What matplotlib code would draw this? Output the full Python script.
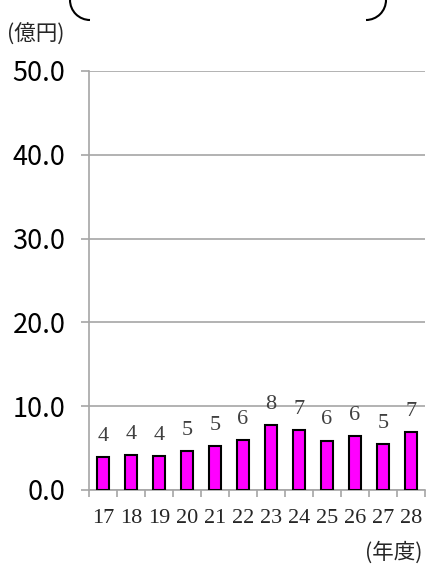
import matplotlib
matplotlib.use("Agg")
import matplotlib.pyplot as plt
from matplotlib.patches import Arc
import numpy as np

# Fiscal years (Heisei) and amounts in 100 million yen
years = ["17", "18", "19", "20", "21", "22", "23", "24", "25", "26", "27", "28"]
amounts = [3.97, 4.2, 4.1, 4.6, 5.25, 6.0, 7.7, 7.2, 5.9, 6.45, 5.45, 6.95]
y_ticks = [0, 10, 20, 30, 40, 50]

W, H, DPI = 429, 565, 100
fig = plt.figure(figsize=(W / DPI, H / DPI), dpi=DPI)
fig.patch.set_facecolor("white")

ax = fig.add_axes([89 / W, (H - 490) / H, 336 / W, 419 / H])
x = np.arange(len(years))
bars = ax.bar(x, amounts, width=0.44, color="#FF00FF", edgecolor="black",
              linewidth=1.5, zorder=3)

grid_c = "#a6a6a6"
ax.set_xlim(-0.5, len(years) - 0.5)
ax.set_ylim(0, 50)
ax.set_yticks(y_ticks)
ax.set_yticklabels([f"{v:.1f}" for v in y_ticks],
                   fontfamily="Noto Sans CJK JP", fontsize=19.5)
ax.yaxis.grid(True, color=grid_c, linewidth=1.2, zorder=0)
ax.tick_params(axis="y", length=6, width=1.2, color=grid_c, pad=11,
               labelcolor="black")

ax.set_xticks(x)
ax.set_xticklabels(years, fontfamily="Liberation Serif", fontsize=16,
                   color="#262626")
ax.set_xticks(np.arange(-0.5, len(years)), minor=True)
ax.tick_params(axis="x", which="major", length=0, pad=14)
ax.tick_params(axis="x", which="minor", length=5, width=1.2, color=grid_c)

for side in ["top", "right"]:
    ax.spines[side].set_visible(False)
for side in ["left", "bottom"]:
    ax.spines[side].set_color(grid_c)
    ax.spines[side].set_linewidth(1.2)

ax.bar_label(bars, labels=[f"{v:.0f}" for v in amounts], padding=8,
             fontfamily="Liberation Serif", fontsize=16, color="#404040")

fig.text(36 / W, 1 - 35 / H, "(億円)", fontfamily="Noto Sans CJK JP",
         fontsize=15.5, ha="center", va="center", color="#262626")
fig.text(394 / W, 1 - 553 / H, "(年度)", fontfamily="Noto Sans CJK JP",
         fontsize=15.5, ha="center", va="center", color="#262626")

# Bracket corners of the title frame at the top
ov = fig.add_axes([0, 0, 1, 1], facecolor="none")
ov.set_xlim(0, W)
ov.set_ylim(H, 0)
ov.axis("off")
ov.add_patch(Arc((90, 0), 40, 40, theta1=90, theta2=180, color="black", lw=1.5))
ov.add_patch(Arc((366, 0), 40, 40, theta1=0, theta2=90, color="black", lw=1.5))

fig.savefig("out.png", dpi=DPI)
